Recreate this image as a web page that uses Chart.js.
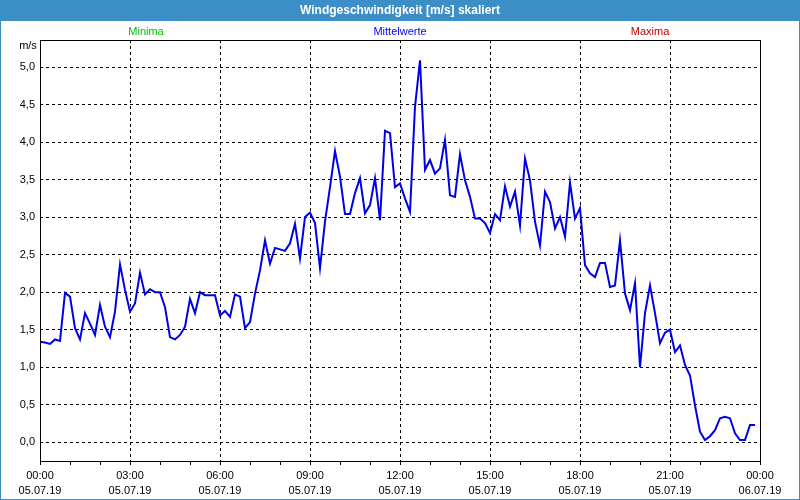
<!DOCTYPE html>
<html>
<head>
<meta charset="utf-8">
<script src="https://cdn.jsdelivr.net/npm/chart.js@4"></script>
<style>
  body { margin: 0; background: #fff; }
  #wrap { width: 800px; height: 500px; }
</style>
</head>
<body>
<div id="wrap"><canvas id="myChart" width="800" height="500"></canvas></div>
<script>
// wind speed, one value every 10 minutes from 00:00
var speed = [
  1.34, 1.33, 1.31, 1.37, 1.35, 1.99, 1.94, 1.52, 1.37, 1.72, 1.58, 1.43,
  1.83, 1.54, 1.40, 1.74, 2.37, 2.03, 1.74, 1.85, 2.26, 1.97, 2.04, 2.00,
  2.00, 1.80, 1.40, 1.37, 1.43, 1.54, 1.91, 1.72, 2.00, 1.96, 1.96, 1.96,
  1.69, 1.75, 1.67, 1.97, 1.94, 1.52, 1.60, 1.98, 2.29, 2.69, 2.38, 2.59,
  2.57, 2.55, 2.65, 2.91, 2.45, 3.00, 3.06, 2.92, 2.32, 2.94, 3.40, 3.88,
  3.54, 3.04, 3.04, 3.32, 3.52, 3.05, 3.16, 3.52, 2.96, 4.15, 4.12, 3.40,
  3.45, 3.25, 3.07, 4.47, 5.09, 3.63, 3.76, 3.58, 3.65, 4.03, 3.29, 3.27,
  3.84, 3.49, 3.27, 2.98, 2.98, 2.92, 2.79, 3.04, 2.96, 3.41, 3.14, 3.34,
  2.89, 3.78, 3.49, 2.94, 2.62, 3.34, 3.20, 2.85, 3.00, 2.74, 3.46, 2.98,
  3.12, 2.36, 2.25, 2.20, 2.39, 2.39, 2.07, 2.09, 2.69, 1.98, 1.76, 2.12,
  1.00, 1.72, 2.09, 1.72, 1.32, 1.46, 1.50, 1.20, 1.29, 1.03, 0.89, 0.49,
  0.14, 0.03, 0.08, 0.16, 0.32, 0.34, 0.32, 0.12, 0.03, 0.03, 0.23, 0.23
];
var stepMinutes = 10;

var tickTimes = ['00:00', '03:00', '06:00', '09:00', '12:00', '15:00', '18:00', '21:00', '00:00'];
var tickDates = ['05.07.19', '05.07.19', '05.07.19', '05.07.19', '05.07.19', '05.07.19', '05.07.19', '05.07.19', '06.07.19'];
var yTicks = [0, 0.5, 1, 1.5, 2, 2.5, 3, 3.5, 4, 4.5, 5];

var points = speed.map(function (v, i) { return { x: i * stepMinutes, y: v }; });

var FONT = 'Liberation Sans, DejaVu Sans, sans-serif';

var frame = {
  id: 'frame',
  beforeDraw: function (chart) {
    var c = chart.ctx;
    c.save();
    c.fillStyle = '#ffffff';
    c.fillRect(0, 0, chart.width, chart.height);
    c.restore();
  },
  afterDraw: function (chart) {
    var c = chart.ctx, a = chart.chartArea;
    c.save();
    // plot frame
    c.strokeStyle = '#000';
    c.lineWidth = 1;
    c.setLineDash([]);
    c.strokeRect(Math.round(a.left) + 0.5, Math.round(a.top) + 0.5,
      Math.round(a.right - a.left), Math.round(a.bottom - a.top));
    // title bar
    c.fillStyle = '#3c8fc6';
    c.fillRect(0, 0, chart.width, 21);
    c.strokeStyle = '#3c8fc6';
    c.strokeRect(0.5, 0.5, chart.width - 1, chart.height - 1);
    c.fillStyle = '#ffffff';
    c.font = 'bold 12px ' + FONT;
    c.textAlign = 'center';
    c.textBaseline = 'middle';
    c.fillText('Windgeschwindigkeit [m/s] skaliert', 400, 11);
    c.font = '11px ' + FONT;
    c.fillStyle = '#00c000';
    c.fillText('Minima', 146, 32);
    c.fillStyle = '#0000ff';
    c.fillText('Mittelwerte', 400, 32);
    c.fillStyle = '#c00000';
    c.fillText('Maxima', 650, 32);
    c.fillStyle = '#000';
    c.fillText('m/s', 28, 46);
    c.restore();
  }
};

var ctx = document.getElementById('myChart').getContext('2d');
var myChart = new Chart(ctx, {
  type: 'line',
  data: {
    datasets: [{
      data: points,
      borderColor: '#0000e6',
      borderWidth: 2,
      pointRadius: 0,
      tension: 0,
      fill: false
    }]
  },
  options: {
    responsive: false,
    animation: false,
    layout: { padding: { left: 0, top: 40, right: 40, bottom: 0 } },
    plugins: {
      legend: { display: false },
      tooltip: { enabled: false }
    },
    scales: {
      x: {
        type: 'linear',
        min: 0,
        max: 1440,
        afterBuildTicks: function (scale) {
          var t = [];
          for (var m = 0; m <= 1440; m += 60) t.push({ value: m });
          scale.ticks = t;
        },
        afterFit: function (scale) { scale.height = 39; },
        ticks: {
          autoSkip: false,
          maxRotation: 0,
          padding: 4,
          color: '#000',
          font: { family: FONT, size: 11, lineHeight: 1.35 },
          callback: function (v) {
            if (v % 180 !== 0) return '';
            var i = v / 180;
            return [tickTimes[i], tickDates[i]];
          }
        },
        grid: {
          color: function (c) { return (c.tick && c.tick.value % 180 === 0) ? '#000' : 'rgba(0,0,0,0)'; },
          tickColor: '#000',
          tickLength: 4,
          tickBorderDash: [],
          lineWidth: 1
        },
        border: { display: false, dash: [3, 3] }
      },
      y: {
        min: -0.25,
        max: 5.36,
        afterBuildTicks: function (scale) {
          scale.ticks = yTicks.map(function (v) { return { value: v }; });
        },
        afterFit: function (scale) { scale.width = 40; },
        ticks: {
          padding: 5,
          color: '#000',
          font: { family: FONT, size: 11 },
          callback: function (v) { return v.toFixed(1).replace('.', ','); }
        },
        grid: {
          color: '#000',
          drawTicks: false,
          tickLength: 0,
          lineWidth: 1
        },
        border: { display: false, dash: [3, 3] }
      }
    }
  },
  plugins: [frame]
});
</script>
</body>
</html>
